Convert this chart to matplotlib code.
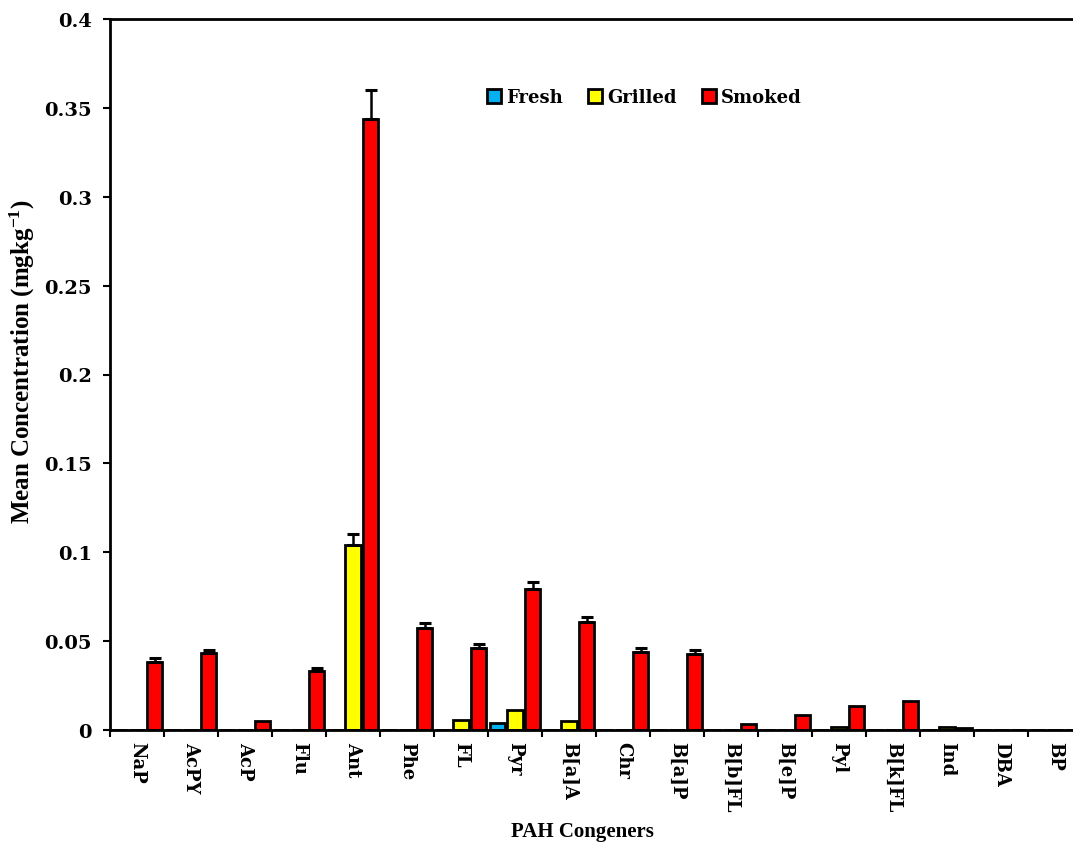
import numpy as np
import matplotlib
matplotlib.use("Agg")
import matplotlib.pyplot as plt

categories = ["NaP", "AcPY", "AcP", "Flu", "Ant", "Phe", "FL", "Pyr", "B[a]A",
              "Chr", "B[a]P", "B[b]FL", "B[e]P", "Pyl", "B[k]FL", "Ind", "DBA", "BP"]

fresh = [0, 0, 0, 0, 0, 0, 0, 0.004, 0, 0, 0, 0, 0, 0, 0, 0, 0, 0]
grilled = [0, 0, 0, 0, 0.104, 0, 0.0055, 0.011, 0.005, 0, 0, 0, 0, 0.0017, 0, 0.0015, 0, 0]
smoked = [0.0383, 0.0433, 0.005, 0.033, 0.3437, 0.0574, 0.046, 0.0793, 0.0607,
          0.0438, 0.0428, 0.0034, 0.0084, 0.0135, 0.0163, 0.001, 0, 0]

fresh_err = [0] * 18
grilled_err = [0, 0, 0, 0, 0.006, 0, 0, 0, 0, 0, 0, 0, 0, 0, 0, 0, 0, 0]
smoked_err = [0.002, 0.0018, 0, 0.002, 0.0166, 0.003, 0.0025, 0.004, 0.003,
              0.0023, 0.0023, 0, 0, 0, 0, 0, 0, 0]

plt.rcParams["font.family"] = "DejaVu Serif"
plt.rcParams["mathtext.default"] = "regular"

fig = plt.figure(figsize=(10.73, 8.45), dpi=100)
ax = fig.add_axes([110 / 1073, 114 / 845, 972 / 1073, 711 / 845])

x = np.arange(len(categories))
step = 0.33
width = 0.28

series = [
    (fresh, fresh_err, "#00B0F0", "Fresh", -step),
    (grilled, grilled_err, "#FFFF00", "Grilled", 0),
    (smoked, smoked_err, "#FF0000", "Smoked", step),
]

for vals, errs, color, label, off in series:
    vals = np.array(vals)
    errs = np.array(errs)
    ax.bar(x + off, vals, width, color=color, edgecolor="black",
           linewidth=2, label=label, zorder=2)
    mask = errs > 0
    if mask.any():
        ax.errorbar(x[mask] + off, vals[mask],
                    yerr=[np.zeros(mask.sum()), errs[mask]],
                    fmt="none", ecolor="black", elinewidth=1.8,
                    capsize=4.5, capthick=2.2, zorder=3)

ax.set_xlim(-0.5, len(categories) - 0.5)
ax.set_ylim(0, 0.4)
ax.set_yticks([0, 0.05, 0.1, 0.15, 0.2, 0.25, 0.3, 0.35, 0.4])
ax.set_yticklabels(["0", "0.05", "0.1", "0.15", "0.2", "0.25", "0.3", "0.35", "0.4"],
                   fontsize=14, fontweight="bold")

ax.set_xticks(x)
ax.set_xticklabels(categories, rotation=270, fontsize=13, fontweight="bold",
                   va="top", ha="center")
ax.set_xticks(np.arange(-0.5, len(categories), 1), minor=True)
ax.tick_params(axis="x", which="major", length=0, pad=8)
ax.tick_params(axis="x", which="minor", length=5, width=1.5, direction="out")
ax.tick_params(axis="y", length=5, width=1.5, direction="out", pad=8)

for side in ["left", "bottom", "top"]:
    ax.spines[side].set_linewidth(2)
ax.spines["right"].set_visible(False)

fig.text(22 / 1073, (845 - 362) / 845, "Mean Concentration (mgkg$^{-1}$)",
         fontsize=18, fontweight="bold", family="Liberation Serif",
         rotation=90, ha="center", va="center")
fig.text(582 / 1073, 13 / 845, "PAH Congeners", fontsize=15,
         fontweight="bold", family="Liberation Serif", ha="center", va="center")

leg = ax.legend(loc="center", bbox_to_anchor=(0.55, 0.89), ncol=3,
                frameon=False, handlelength=0.75, handleheight=0.75,
                handletextpad=0.3, columnspacing=1.4,
                prop={"size": 13, "weight": "bold"})

fig.savefig("out.png", dpi=100)
